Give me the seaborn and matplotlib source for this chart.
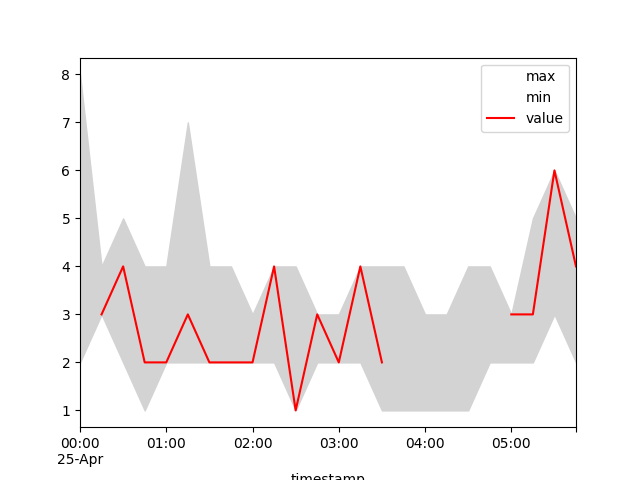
import numpy as np
import pandas as pd
import matplotlib
matplotlib.use("Agg")
import matplotlib.pyplot as plt
import matplotlib.dates as mdates
from matplotlib.ticker import FuncFormatter, FixedLocator
import seaborn as sns

start = "2023-04-25 00:00"
n_points = 24
max_vals = [8, 4, 5, 4, 4, 7, 4, 4, 3, 4, 4, 3, 3, 4, 4, 4, 3, 3, 4, 4, 3, 5, 6, 5]
min_vals = [2, 3, 2, 1, 2, 2, 2, 2, 2, 2, 1, 2, 2, 2, 1, 1, 1, 1, 1, 2, 2, 2, 3, 2]
values = [np.nan, 3, 4, 2, 2, 3, 2, 2, 2, 4, 1, 3, 2, 4, 2,
          np.nan, np.nan, np.nan, np.nan, np.nan, 3, 3, 6, 4]

ts = pd.date_range(start, periods=n_points, freq="15min")
df = pd.DataFrame({"timestamp": ts, "max": max_vals, "min": min_vals, "value": values})
# segment id so gaps (NaN) are not bridged
df["seg"] = df["value"].isna().cumsum()
vdf = df.dropna(subset=["value"])

fig, ax = plt.subplots(figsize=(6.4, 4.8), dpi=100)

sns.lineplot(data=df, x="timestamp", y="max", color="white", label="max", ax=ax, linewidth=1.5)
sns.lineplot(data=df, x="timestamp", y="min", color="white", label="min", ax=ax, linewidth=1.5)
ax.fill_between(df["timestamp"], df["min"], df["max"], color="lightgray", zorder=2.2)
sns.lineplot(data=vdf, x="timestamp", y="value", units="seg", estimator=None,
             color="red", label="value", ax=ax, linewidth=1.5, zorder=3)

ax.set_xlim(ts[0], ts[-1])
ax.set_ylim(0.65, 8.35)
ax.set_ylabel("")
ax.set_xlabel("timestamp")

hour_ticks = [mdates.date2num(t) for t in pd.date_range(ts[0], ts[-1], freq="1h")]
ax.xaxis.set_major_locator(FixedLocator(hour_ticks + [mdates.date2num(ts[-1])]))
first = hour_ticks[0]
last = mdates.date2num(ts[-1])

def fmt(x, pos):
    d = mdates.num2date(x)
    if abs(x - last) < 1e-9 and abs(x - hour_ticks[-1]) > 1e-9:
        return ""
    if abs(x - first) < 1e-9:
        return d.strftime("%H:%M") + "\n" + d.strftime("%d-%b")
    return d.strftime("%H:%M")

ax.xaxis.set_major_formatter(FuncFormatter(fmt))
plt.setp(ax.get_xticklabels(), rotation=0, ha="center")

handles, labels = ax.get_legend_handles_labels()
seen = {}
for h, l in zip(handles, labels):
    if l not in seen:
        seen[l] = h
ax.legend(list(seen.values()), list(seen.keys()), loc="upper right")

fig.savefig("out.png", dpi=100)
